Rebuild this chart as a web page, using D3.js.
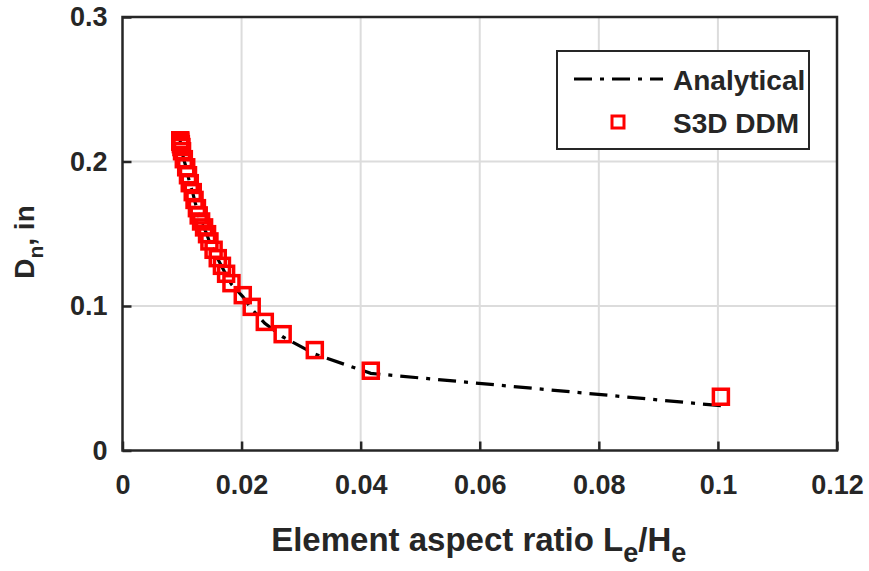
<!DOCTYPE html>
<html>
<head>
<meta charset="utf-8">
<script src="https://cdn.jsdelivr.net/npm/d3@7"></script>
<style>
  body { margin: 0; background: #fff; }
  #chart text { font-family: "Liberation Sans", Arial, sans-serif; font-weight: bold; fill: #262626; }
</style>
</head>
<body>
<div id="chart"></div>
<script>
// element aspect ratio L_e/H_e
const aspectRatio = [0.1005, 0.0417, 0.0323, 0.0269, 0.0239, 0.0217, 0.0202, 0.0183, 0.0174, 0.0167,
  0.0160, 0.0153, 0.0146, 0.0142, 0.0137, 0.0132, 0.0128, 0.0125, 0.0121, 0.0118,
  0.0113, 0.0110, 0.0107, 0.0103, 0.0100, 0.0099, 0.0098, 0.0097, 0.0097];
// S3D DDM results, Dn (in)
const ddmDn = [0.0372, 0.0552, 0.0695, 0.0805, 0.0890, 0.0994, 0.1075, 0.1158, 0.1223, 0.1278,
  0.1331, 0.1389, 0.1447, 0.1497, 0.1544, 0.1585, 0.1627, 0.1677, 0.1734, 0.1788,
  0.1850, 0.1905, 0.1960, 0.2016, 0.2071, 0.2100, 0.2120, 0.2137, 0.2147];
// analytical solution, Dn (in)
const analyticalDn = [0.0310, 0.0534, 0.0667, 0.0787, 0.0880, 0.0980, 0.1065, 0.1150, 0.1215, 0.1272,
  0.1326, 0.1385, 0.1443, 0.1493, 0.1540, 0.1582, 0.1624, 0.1674, 0.1731, 0.1785,
  0.1847, 0.1902, 0.1957, 0.2013, 0.2068, 0.2097, 0.2117, 0.2134, 0.2144];
const xTicks = [0, 0.02, 0.04, 0.06, 0.08, 0.1, 0.12];
const yTicks = [0, 0.1, 0.2, 0.3];

(function() {
  const width = 869, height = 571;
  const margin = { left: 122.5, right: 32, top: 17, bottom: 120.5 };
  const axisColor = "#262626";

  const svg = d3.select("#chart").append("svg")
    .attr("width", width).attr("height", height);

  const x = d3.scaleLinear().domain([0, 0.12]).range([margin.left, width - margin.right]);
  const y = d3.scaleLinear().domain([0, 0.3]).range([height - margin.bottom, margin.top]);

  // grid
  svg.append("g").selectAll("line").data(xTicks.slice(1, -1)).join("line")
    .attr("x1", d => x(d)).attr("x2", d => x(d))
    .attr("y1", y(0)).attr("y2", y(0.3))
    .attr("stroke", "#dcdcdc").attr("stroke-width", 2);
  svg.append("g").selectAll("line").data(yTicks.slice(1, -1)).join("line")
    .attr("y1", d => y(d)).attr("y2", d => y(d))
    .attr("x1", x(0)).attr("x2", x(0.12))
    .attr("stroke", "#dcdcdc").attr("stroke-width", 2);

  // axes (ticks inward)
  const xAxis = svg.append("g").attr("transform", `translate(0,${y(0)})`)
    .call(d3.axisBottom(x).tickValues(xTicks).tickSize(-9).tickPadding(24)
      .tickFormat(d => d3.format("~g")(d)));
  const yAxis = svg.append("g").attr("transform", `translate(${x(0)},0)`)
    .call(d3.axisLeft(y).tickValues(yTicks).tickSize(-9).tickPadding(15)
      .tickFormat(d => d3.format("~g")(d)));
  [xAxis, yAxis].forEach(g => {
    g.select(".domain").remove();
    g.selectAll(".tick line").attr("stroke", axisColor).attr("stroke-width", 2.5);
    g.selectAll(".tick text").style("font-size", "27px").attr("fill", axisColor);
  });
  xAxis.selectAll(".tick text").attr("dy", "0.71em");

  svg.append("rect")
    .attr("x", x(0)).attr("y", y(0.3))
    .attr("width", x(0.12) - x(0)).attr("height", y(0) - y(0.3))
    .attr("fill", "none").attr("stroke", axisColor).attr("stroke-width", 2.5);

  const pts = aspectRatio.map((a, i) => ({ a, ddm: ddmDn[i], an: analyticalDn[i] }));

  // analytical line
  const line = d3.line().x(d => x(d.a)).y(d => y(d.an));
  svg.append("path").datum(pts)
    .attr("d", line)
    .attr("fill", "none").attr("stroke", "#000")
    .attr("stroke-width", 3.2)
    .attr("stroke-dasharray", "18,8,4,8");

  // S3D DDM markers
  const s = 15;
  svg.append("g").selectAll("rect").data(pts).join("rect")
    .attr("x", d => x(d.a) - s / 2).attr("y", d => y(d.ddm) - s / 2)
    .attr("width", s).attr("height", s)
    .attr("fill", "none").attr("stroke", "#ff0000").attr("stroke-width", 3.5);

  // legend
  const lg = svg.append("g");
  lg.append("rect").attr("x", 557).attr("y", 51).attr("width", 252).attr("height", 98)
    .attr("fill", "#fff").attr("stroke", axisColor).attr("stroke-width", 2);
  lg.append("line").attr("x1", 574).attr("x2", 663).attr("y1", 79).attr("y2", 79)
    .attr("stroke", "#000").attr("stroke-width", 3.2).attr("stroke-dasharray", "18,8,4,8");
  lg.append("text").attr("x", 673).attr("y", 90).style("font-size", "28px").attr("fill", "#000").text("Analytical");
  lg.append("rect").attr("x", 618 - 6).attr("y", 122 - 6).attr("width", 12).attr("height", 12)
    .attr("fill", "none").attr("stroke", "#ff0000").attr("stroke-width", 3);
  lg.append("text").attr("x", 673).attr("y", 133).style("font-size", "28px").attr("fill", "#000").text("S3D DDM");

  // axis labels
  const xl = svg.append("text").attr("x", (x(0) + x(0.12)) / 2 - 1).attr("y", 551)
    .attr("text-anchor", "middle").style("font-size", "33px");
  xl.append("tspan").text("Element aspect ratio L");
  xl.append("tspan").attr("dy", 11).style("font-size", "27px").text("e");
  xl.append("tspan").attr("dy", -11).text("/H");
  xl.append("tspan").attr("dy", 11).style("font-size", "27px").text("e");

  const yl = svg.append("text")
    .attr("transform", `translate(34,242) rotate(-90)`)
    .attr("text-anchor", "middle").style("font-size", "28px");
  yl.append("tspan").text("D");
  yl.append("tspan").attr("dy", 9).style("font-size", "21px").text("n");
  yl.append("tspan").attr("dy", -9).text(", in");
})();
</script>
</body>
</html>
